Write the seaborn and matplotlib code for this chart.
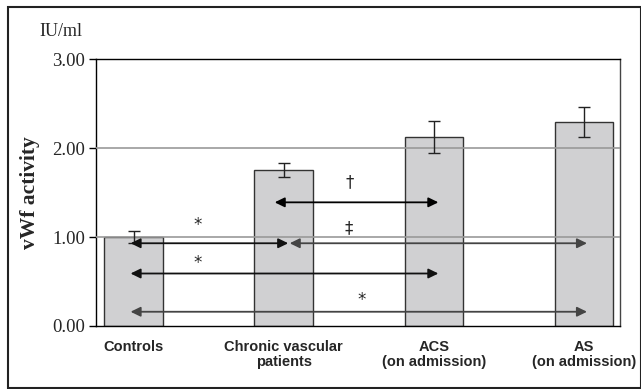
import numpy as np
import pandas as pd
import matplotlib
matplotlib.use("Agg")
import matplotlib.pyplot as plt
import seaborn as sns
from matplotlib.patches import Rectangle

# data
groups = ["Controls", "Chronic vascular\npatients", "ACS\n(on admission)", "AS\n(on admission)"]
vwf = [1.00, 1.75, 2.12, 2.29]
sem = [0.07, 0.08, 0.18, 0.17]

# comparisons: start group, end group, y level, marker, marker x, marker y
cmp_from = [1, 0, 1, 0, 0]
cmp_to = [2, 1, 3, 2, 3]
cmp_y = [1.39, 0.93, 0.93, 0.59, 0.16]
cmp_sign = ["\u2020", "*", "\u2021", "*", "*"]
sign_x = [1.44, 0.43, 1.43, 0.43, 1.52]
sign_y = [1.62, 1.13, 1.10, 0.71, 0.29]

df = pd.DataFrame({"group": groups, "vwf": vwf})

sns.set_style("white")
plt.rcParams["font.family"] = ["Liberation Serif", "DejaVu Serif"]

fig = plt.figure(figsize=(6.41, 3.89), dpi=100)
ax = fig.add_axes([0.1498, 0.162, 0.8175, 0.686])

sns.barplot(data=df, x="group", y="vwf", color="#d0d0d2", saturation=1,
            width=0.39, edgecolor="#333333", linewidth=1.0, errorbar=None, ax=ax)
ax.errorbar(np.arange(len(groups)), vwf, yerr=sem, fmt="none", ecolor="#222222",
            elinewidth=1.0, capsize=4, capthick=1.0, zorder=5)

ax.set_xlim(-0.25, 3.24)
ax.set_ylim(0, 3)
ax.set_yticks([0, 1, 2, 3])
ax.set_yticklabels(["0.00", "1.00", "2.00", "3.00"], fontsize=13.5)
for yv in [1, 2]:
    ax.axhline(yv, color="#999999", lw=1.2, zorder=4)

ax.tick_params(axis="y", direction="out", length=5, width=1, color="black", pad=3, left=True)
ax.tick_params(axis="x", length=0, pad=10)
ax.set_xticks(range(len(groups)))
ax.set_xticklabels(groups, fontsize=10.5, fontweight="bold", family="Liberation Sans", linespacing=1.1)
ax.set_xlabel("")
ax.set_ylabel("vWf activity", fontsize=15.5, fontweight="bold", labelpad=9)

for s in ["left", "bottom", "top"]:
    ax.spines[s].set_color("black")
    ax.spines[s].set_linewidth(1)
ax.spines["right"].set_color("#444444")
ax.spines["right"].set_linewidth(1)

# offsets of the arrow tips from bar centres (in category units)
start_off = {0: -0.02, 1: -0.06}
end_off = {1: 0.03, 2: 0.03, 3: 0.02}
arrow_col = ["black", "#111111", "#444444", "#111111", "#444444"]
for i in range(len(cmp_y)):
    x0 = cmp_from[i] + start_off[cmp_from[i]]
    if cmp_from[i] == 1 and cmp_to[i] == 3:
        x0 = 1.04
    x1 = cmp_to[i] + end_off[cmp_to[i]]
    ax.annotate("", xy=(x1, cmp_y[i]), xytext=(x0, cmp_y[i]),
                arrowprops=dict(arrowstyle="<|-|>,head_length=0.45,head_width=0.22",
                                color=arrow_col[i], lw=1.3,
                                mutation_scale=13, shrinkA=0, shrinkB=0),
                zorder=6)
    ax.text(sign_x[i], sign_y[i], cmp_sign[i], ha="center", va="center", fontsize=12,
            family="DejaVu Sans", zorder=6)

fig.text(61 / 641, 1 - 32 / 389, "IU/ml", ha="center", va="center", fontsize=13)

fig.patches.append(Rectangle((8 / 641, 1 / 389), 1 - 8 / 641, 1 - 8 / 389,
                             transform=fig.transFigure, fill=False,
                             edgecolor="#222222", lw=1.5))

fig.savefig("out.png", dpi=100)
